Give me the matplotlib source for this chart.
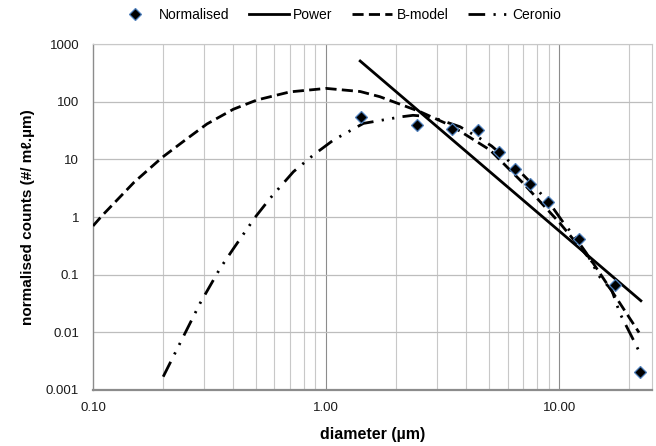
import matplotlib
matplotlib.use('Agg')
import matplotlib.pyplot as plt
import numpy as np

plt.rcParams['font.family'] = ['Liberation Sans', 'DejaVu Sans']

# measured points
norm_d = [1.41, 2.45, 3.48, 4.47, 5.50, 6.46, 7.49, 8.97, 12.2, 17.3, 22.3]
norm_v = [54.8, 38.9, 33.2, 31.8, 13.6, 6.88, 3.78, 1.82, 0.42, 0.065, 0.00205]

# power fit (straight on log-log, end points)
power_d = [1.40, 22.4]
power_v = [507, 0.0353]

# B-model curve
bmod_d = [0.10, 0.109, 0.15, 0.198, 0.25, 0.308, 0.40, 0.505, 0.70, 1.0, 1.4, 1.7,
          2.53, 3.46, 5.05, 7.01, 10.07, 14.0, 18.2, 22.0]
bmod_v = [0.70, 1.04, 4.0, 10.8, 22.0, 41.0, 74.0, 107, 148, 170, 150, 122,
          67, 37.8, 14.5, 3.84, 0.78, 0.157, 0.032, 0.0099]

# Ceronio curve
cer_d = [0.200, 0.288, 0.351, 0.401, 0.496, 0.575, 0.724, 0.882, 1.075, 1.445, 1.85,
         2.11, 2.36, 2.8, 3.75, 4.57, 5.13, 6.25, 7.24, 7.87, 9.42, 10.58, 11.5,
         13.1, 14.9, 16.8, 18.2, 19.95, 21.1, 22.3]
cer_v = [0.0017, 0.032, 0.129, 0.286, 0.99, 2.11, 6.1, 11.9, 21.6, 42, 50,
         54.8, 58, 55, 36.8, 23.1, 17, 8.5, 4.69, 3.35, 1.42, 0.73, 0.49,
         0.234, 0.092, 0.054, 0.0214, 0.0103, 0.0066, 0.0042]

xticks = [0.1, 1, 10]
xlabels = ['0.10', '1.00', '10.00']
xminor = [0.2, 0.3, 0.4, 0.5, 0.6, 0.7, 0.8, 0.9, 2, 3, 4, 5, 6, 7, 8, 9, 20]
yticks = [0.001, 0.01, 0.1, 1, 10, 100, 1000]
ylabels = ['0.001', '0.01', '0.1', '1', '10', '100', '1000']

fig = plt.figure(figsize=(6.56, 4.46), dpi=100)
ax = fig.add_axes([0.1418, 0.1256, 0.8521, 0.7757])
ax.set_xscale('log')
ax.set_yscale('log')
ax.set_xlim(0.1, 25)
ax.set_ylim(0.001, 1000)

# grid
for xv in xminor:
    ax.axvline(xv, color='#c8c8c8', lw=0.8, zorder=0)
for xv in [1, 10]:
    ax.axvline(xv, color='#8c8c8c', lw=0.8, zorder=0)
for yv in yticks[1:]:
    ax.axhline(yv, color='#bdbdbd', lw=0.9, zorder=0)

ax.set_xticks(xticks)
ax.set_xticklabels(xlabels)
ax.set_xticks([], minor=True)
ax.set_yticks(yticks)
ax.set_yticklabels(ylabels)
ax.set_yticks([], minor=True)
ax.tick_params(axis='both', length=0, labelsize=9.5, colors='#1a1a1a')
ax.tick_params(axis='y', pad=10)
ax.tick_params(axis='x', pad=9)

for s in ['top', 'right']:
    ax.spines[s].set_color('#c8c8c8')
    ax.spines[s].set_linewidth(0.8)
ax.spines['left'].set_color('#8c8c8c')
ax.spines['left'].set_linewidth(1.0)
ax.spines['bottom'].set_color('#8c8c8c')
ax.spines['bottom'].set_linewidth(1.6)

ax.plot(norm_d, norm_v, linestyle='none', marker='D', markersize=6,
        markerfacecolor='black', markeredgecolor='#4f81bd', markeredgewidth=0.9,
        label='Normalised', zorder=5)
ax.plot(power_d, power_v, color='black', lw=2, label='Power', zorder=4)
ax.plot(bmod_d, bmod_v, color='black', lw=2, dashes=(4.0, 1.9), label='B-model', zorder=4)
ax.plot(cer_d, cer_v, color='black', lw=2, dashes=(6, 3, 0.8, 3, 0.8, 3),
        label='Ceronio', zorder=4)

ax.set_xlabel('diameter (\u00b5m)', fontsize=11.5, fontweight='bold', labelpad=9)
ax.set_ylabel('normalised counts (#/ m\u2113.\u00b5m)', fontsize=11, fontweight='bold', labelpad=8)

leg = fig.legend(loc='upper center', bbox_to_anchor=(0.515, 1.01), ncol=4, frameon=False,
                 fontsize=10, handlelength=2.9, handletextpad=0.3, columnspacing=1.4)

fig.savefig('out.png', dpi=100)
